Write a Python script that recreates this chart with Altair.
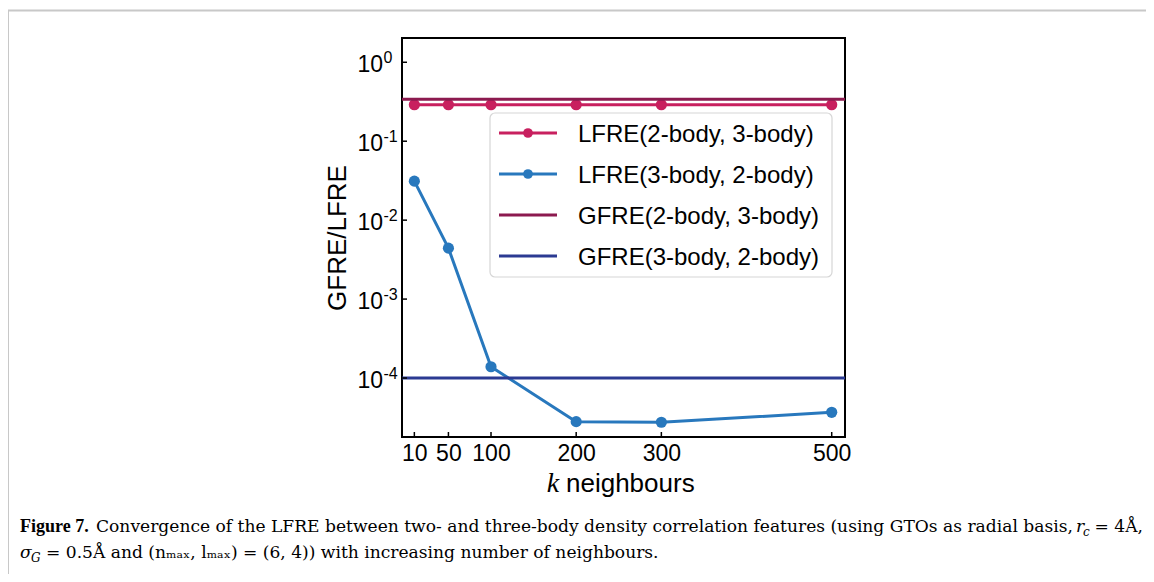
import altair as alt
import pandas as pd

# ---- data ----
k_values = [10, 50, 100, 200, 300, 500]
lfre_2b_3b = [0.29, 0.29, 0.29, 0.29, 0.29, 0.29]
lfre_3b_2b = [0.0312, 0.00442, 1.39e-4, 2.80e-5, 2.75e-5, 3.68e-5]
gfre_values = [0.34, 1.0e-4]
x_ticks = [10, 50, 100, 200, 300, 500]
y_ticks = [1, 0.1, 0.01, 0.001, 0.0001]
y_exponents = ["0", "-1", "-2", "-3", "-4"]
legend_labels = ["LFRE(2-body, 3-body)", "LFRE(3-body, 2-body)",
                 "GFRE(2-body, 3-body)", "GFRE(3-body, 2-body)"]
colors = ["#c8205f", "#2878bd", "#8c1a4f", "#2b3a92"]

W, H = 443, 399
SANS = "Liberation Sans"
SERIF = "Liberation Serif"
CAP = "DejaVu Serif"
CAPSIZE = 17.1

xscale = alt.Scale(domain=[-4.5, 515.6], nice=False, zero=False)
yscale = alt.Scale(type="log", domain=[1.79e-5, 2.03], nice=False)
xaxis = alt.Axis(values=x_ticks, ticks=False, domain=False, grid=False,
                 labelFont=SANS, labelFontSize=23, labelColor="black",
                 labelPadding=5, title=None)

df23 = pd.DataFrame({"k": k_values, "v": lfre_2b_3b})
df32 = pd.DataFrame({"k": k_values, "v": lfre_3b_2b})
dfg = pd.DataFrame({"v": gfre_values, "c": [colors[2], colors[3]]})
dfyt = pd.DataFrame({"v": y_ticks, "e": y_exponents})
dfxt = pd.DataFrame({"t": x_ticks})


def series(df, color):
    base = alt.Chart(df).encode(
        x=alt.X("k:Q", scale=xscale, axis=xaxis),
        y=alt.Y("v:Q", scale=yscale, axis=None),
    )
    return base.mark_line(color=color, strokeWidth=3) + \
        base.mark_point(color=color, filled=True, opacity=1, size=125)


layers = []
layers.append(series(df23, colors[0]))
layers.append(series(df32, colors[1]))
layers.append(
    alt.Chart(dfg).mark_rule(strokeWidth=3).encode(
        y=alt.Y("v:Q", scale=yscale, axis=None),
        x=alt.value(0), x2=alt.value(W),
        color=alt.Color("c:N", scale=None),
    )
)

# inward ticks
layers.append(
    alt.Chart(dfyt).mark_rule(color="black", strokeWidth=1.5).encode(
        y=alt.Y("v:Q", scale=yscale, axis=None),
        x=alt.value(0), x2=alt.value(5),
    )
)
layers.append(
    alt.Chart(dfxt).mark_rule(color="black", strokeWidth=1.5).encode(
        x=alt.X("t:Q", scale=xscale, axis=xaxis),
        y=alt.value(H), y2=alt.value(H - 5),
    )
)

# y tick labels 10^n
layers.append(
    alt.Chart(dfyt).mark_text(font=SANS, fontSize=23, align="right",
                              baseline="alphabetic", dy=9.5, color="black").encode(
        y=alt.Y("v:Q", scale=yscale, axis=None),
        x=alt.value(-19),
        text=alt.value("10"),
    )
)
layers.append(
    alt.Chart(dfyt).mark_text(font=SANS, fontSize=16, align="left",
                              baseline="alphabetic", dy=0.5, color="black").encode(
        y=alt.Y("v:Q", scale=yscale, axis=None),
        x=alt.value(-18.5),
        text="e:N",
    )
)

# legend
layers.append(
    alt.Chart(pd.DataFrame({"a": [0]})).mark_rect(
        fill="white", fillOpacity=0.85, stroke="#d6d6d6", strokeWidth=1.2,
        cornerRadius=5).encode(
        x=alt.value(88), x2=alt.value(430), y=alt.value(75), y2=alt.value(239))
)
row_y = [95, 136, 177, 218]
for i, lab in enumerate(legend_labels):
    one = pd.DataFrame({"label": [lab]})
    layers.append(
        alt.Chart(one).mark_rule(color=colors[i], strokeWidth=3).encode(
            x=alt.value(97), x2=alt.value(155), y=alt.value(row_y[i]))
    )
    if i < 2:
        layers.append(
            alt.Chart(one).mark_point(color=colors[i], filled=True, opacity=1,
                                      size=95).encode(
                x=alt.value(126), y=alt.value(row_y[i]))
        )
    layers.append(
        alt.Chart(one).mark_text(font=SANS, fontSize=24, align="left",
                                 baseline="alphabetic", color="black").encode(
            x=alt.value(176), y=alt.value(row_y[i] + 8.5), text="label:N")
    )


def txt(s, x, y, **kw):
    return alt.Chart(pd.DataFrame({"s": [s]})).mark_text(**kw).encode(
        x=alt.value(x), y=alt.value(y), text="s:N")


# axis titles
layers.append(txt("GFRE/LFRE", -64, 200, font=SANS, fontSize=26, angle=270,
                  align="center", baseline="middle", color="black"))
layers.append(txt("k", 151, 454, font=SERIF, fontSize=28, fontStyle="italic",
                  align="center", baseline="alphabetic", color="black"))
layers.append(txt("neighbours", 164, 454, font=SANS, fontSize=26,
                  align="left", baseline="alphabetic", color="black"))

# figure frame lines (page border)
layers.append(
    alt.Chart(pd.DataFrame({"a": [0]})).mark_rule(color="#c8c8c8", strokeWidth=2).encode(
        x=alt.value(-394), x2=alt.value(760), y=alt.value(-27.5))
)
layers.append(
    alt.Chart(pd.DataFrame({"a": [0]})).mark_rule(color="#c8c8c8", strokeWidth=2).encode(
        x=alt.value(-394), y=alt.value(-27.5), y2=alt.value(560))
)

# caption
CY1, CY2 = 494, 520
layers.append(txt("Figure 7.", -382, CY1, font=SERIF, fontSize=18, fontWeight="bold",
                  align="left", baseline="alphabetic", color="black"))
layers.append(txt("Convergence of the LFRE between two- and three-body density correlation "
                  "features (using GTOs as radial basis,", -306, CY1, font=CAP, fontSize=CAPSIZE,
                  align="left", baseline="alphabetic", color="black"))
layers.append(txt("r", 674, CY1, font=CAP, fontSize=CAPSIZE, fontStyle="italic",
                  align="left", baseline="alphabetic", color="black"))
layers.append(txt("c", 681, CY1 + 4, font=CAP, fontSize=12, fontStyle="italic",
                  align="left", baseline="alphabetic", color="black"))
layers.append(txt("= 4Å,", 741, CY1, font=CAP, fontSize=CAPSIZE,
                  align="right", baseline="alphabetic", color="black"))
layers.append(txt("σ", -382, CY2, font=CAP, fontSize=CAPSIZE, fontStyle="italic",
                  align="left", baseline="alphabetic", color="black"))
layers.append(txt("G", -371, CY2 + 4, font=CAP, fontSize=12, fontStyle="italic",
                  align="left", baseline="alphabetic", color="black"))
layers.append(txt("= 0.5Å and (nₘₐₓ, lₘₐₓ) = (6, 4)) with increasing number of neighbours.",
                  -356, CY2, font=CAP, fontSize=CAPSIZE,
                  align="left", baseline="alphabetic", color="black"))

chart = alt.layer(*layers).properties(
    width=W, height=H,
    autosize=alt.AutoSizeParams(type="none"),
    padding={"left": 394, "top": 30, "right": 301, "bottom": 137},
    background="white",
).configure_view(stroke="black", strokeWidth=2)

chart.save("out.html", embed_options={"renderer": "svg", "actions": False})
